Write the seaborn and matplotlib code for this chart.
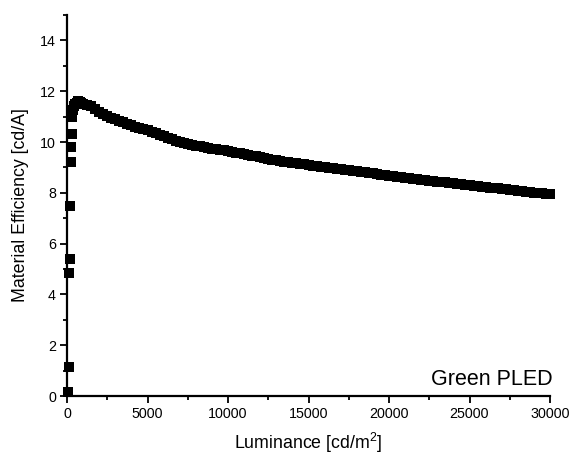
import matplotlib
matplotlib.use("Agg")
import matplotlib.pyplot as plt
import seaborn as sns
import pandas as pd
from matplotlib.ticker import MultipleLocator

# Data
luminance = [50, 100, 150, 160, 190, 220, 250, 280, 310, 370, 430, 500, 600, 700,
             800, 900, 1000, 1250, 1500, 1750, 2000, 2250, 2500, 2750, 3000, 3250,
             3500, 3750, 4000, 4250, 4500, 4750, 5000, 5250, 5500, 5750, 6000, 6250,
             6500, 6750, 7000, 7250, 7500, 7750, 8000, 8250, 8500, 8750, 9000, 9250,
             9500, 9750, 10000, 10250, 10500, 10750, 11000, 11250, 11500, 11750,
             12000, 12250, 12500, 12750, 13000, 13250, 13500, 13750, 14000, 14250,
             14500, 14750, 15000, 15250, 15500, 15750, 16000, 16250, 16500, 16750,
             17000, 17250, 17500, 17750, 18000, 18250, 18500, 18750, 19000, 19250,
             19500, 19750, 20000, 20250, 20500, 20750, 21000, 21250, 21500, 21750,
             22000, 22250, 22500, 22750, 23000, 23250, 23500, 23750, 24000, 24250,
             24500, 24750, 25000, 25250, 25500, 25750, 26000, 26250, 26500, 26750,
             27000, 27250, 27500, 27750, 28000, 28250, 28500, 28750, 29000, 29250,
             29500, 29750, 30000]
efficiency = [0.16, 1.15, 4.83, 5.38, 7.5, 9.2, 9.8, 10.3, 11.0, 11.25, 11.4, 11.5,
              11.55, 11.6, 11.56, 11.52, 11.48, 11.45, 11.4, 11.3, 11.17, 11.1, 11.03,
              10.96, 10.9, 10.84, 10.78, 10.72, 10.66, 10.6, 10.55, 10.5, 10.46, 10.4,
              10.34, 10.28, 10.22, 10.16, 10.11, 10.05, 10.0, 9.96, 9.93, 9.9, 9.86,
              9.83, 9.8, 9.77, 9.74, 9.72, 9.7, 9.67, 9.64, 9.61, 9.58, 9.55, 9.52,
              9.49, 9.46, 9.43, 9.4, 9.37, 9.34, 9.31, 9.28, 9.25, 9.23, 9.2, 9.18,
              9.16, 9.14, 9.12, 9.1, 9.07, 9.05, 9.02, 9.0, 8.98, 8.96, 8.94, 8.92,
              8.9, 8.88, 8.86, 8.84, 8.82, 8.8, 8.78, 8.76, 8.74, 8.72, 8.7, 8.68,
              8.66, 8.64, 8.62, 8.6, 8.58, 8.56, 8.54, 8.52, 8.5, 8.48, 8.46, 8.44,
              8.42, 8.41, 8.39, 8.37, 8.35, 8.34, 8.32, 8.30, 8.28, 8.26, 8.24, 8.22,
              8.2, 8.19, 8.17, 8.15, 8.13, 8.12, 8.1, 8.08, 8.06, 8.05, 8.03, 8.01,
              7.99, 7.98, 7.96, 7.94]
x_ticks = [0, 5000, 10000, 15000, 20000, 25000, 30000]
y_ticks = [0, 2, 4, 6, 8, 10, 12, 14]

df = pd.DataFrame({"Luminance": luminance, "Efficiency": efficiency})

sns.set_style("ticks")
plt.rcParams["font.family"] = ["Liberation Sans", "DejaVu Sans"]
plt.rcParams["text.color"] = "black"
plt.rcParams["axes.labelcolor"] = "black"
plt.rcParams["mathtext.fontset"] = "custom"
plt.rcParams["mathtext.rm"] = "Liberation Sans"

fig = plt.figure(figsize=(5.77, 4.55), dpi=100)
ax = fig.add_axes([67 / 577, 59 / 455, 483 / 577, 381 / 455])

sns.scatterplot(data=df, x="Luminance", y="Efficiency", ax=ax, marker="s",
                color="black", s=46, linewidth=0, clip_on=False, zorder=3)

ax.set_xlim(0, 30000)
ax.set_ylim(0, 15)
ax.set_xticks(x_ticks)
ax.set_yticks(y_ticks)
ax.xaxis.set_minor_locator(MultipleLocator(2500))
ax.yaxis.set_minor_locator(MultipleLocator(1))
ax.tick_params(axis="both", which="major", direction="out", length=5, width=1.3,
               labelsize=10.3, colors="black", pad=3)
ax.tick_params(axis="both", which="minor", direction="out", length=3, width=1.3,
               colors="black")
for side in ["left", "bottom"]:
    ax.spines[side].set_linewidth(1.6)
    ax.spines[side].set_color("black")
ax.spines["top"].set_visible(False)
ax.spines["right"].set_visible(False)

ax.set_xlabel("Luminance [cd/m$^\\mathregular{2}$]", fontsize=12.8, labelpad=7)
ax.set_ylabel("Material Efficiency [cd/A]", fontsize=12.8, labelpad=8)

ax.text(1.006, 0.029, "Green PLED", transform=ax.transAxes, ha="right",
        va="baseline", fontsize=15.5, color="black")

fig.savefig("out.png", dpi=100)
